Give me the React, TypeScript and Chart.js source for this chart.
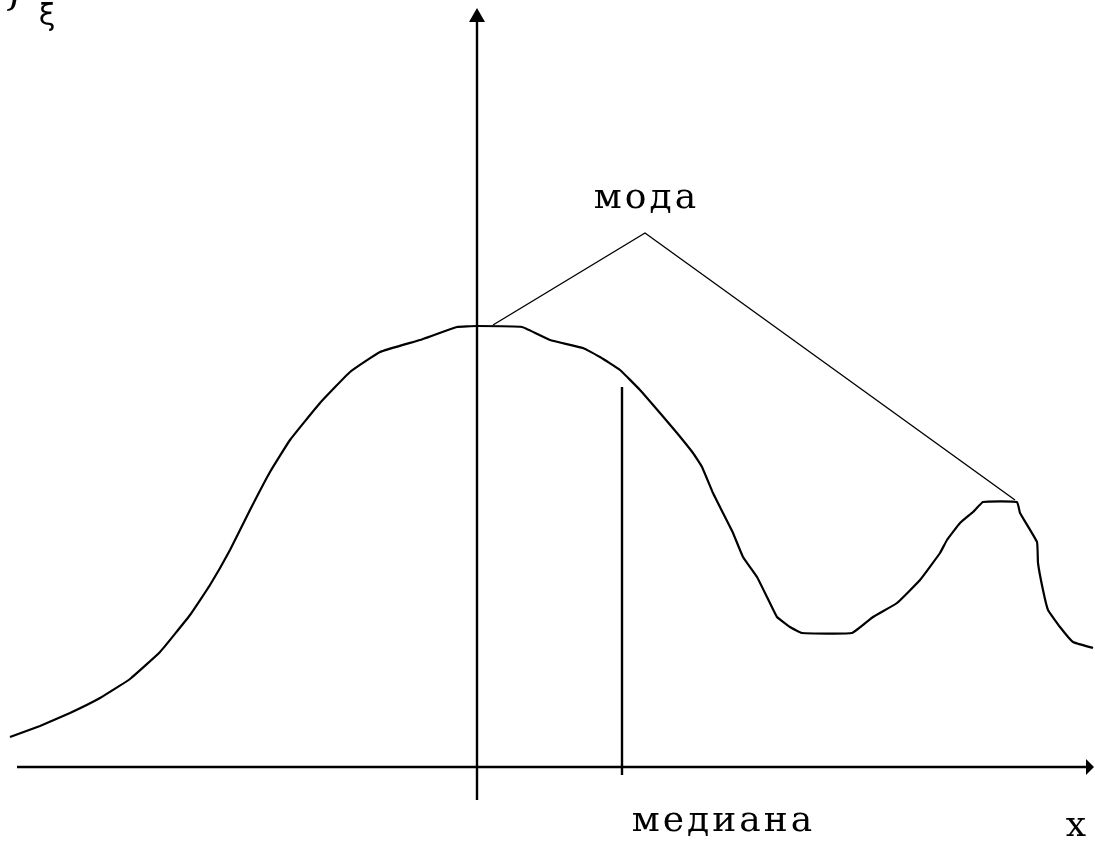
import React, { useEffect, useRef } from "react";
import { Chart, registerables } from "chart.js";

Chart.register(...registerables);

// Density curve f(x), sampled along x
const curveX = [
  -4.67, -4.37, -4.07, -3.77, -3.47, -3.17, -2.87, -2.67, -2.47, -2.27, -2.07, -1.87,
  -1.57, -1.27, -0.97, -0.57, -0.2, 0.0, 0.45, 0.73, 1.06, 1.23, 1.43, 1.63, 1.83, 2.0,
  2.16, 2.25, 2.36, 2.46, 2.56, 2.66, 2.8, 2.9, 3.0, 3.13, 3.25, 3.75, 3.96, 4.2, 4.43,
  4.63, 4.7, 4.83, 4.96, 5.06, 5.4, 5.43, 5.6, 5.61, 5.66, 5.71, 5.83, 5.96, 6.16,
];
const curveY = [
  0.3, 0.41, 0.54, 0.69, 0.88, 1.15, 1.52, 1.82, 2.17, 2.57, 2.95, 3.27,
  3.64, 3.95, 4.15, 4.27, 4.4, 4.41, 4.4, 4.27, 4.19, 4.1, 3.97, 3.77, 3.54, 3.34,
  3.14, 3.0, 2.74, 2.54, 2.34, 2.1, 1.9, 1.7, 1.5, 1.4, 1.34, 1.34, 1.5, 1.64, 1.87,
  2.14, 2.27, 2.44, 2.55, 2.65, 2.65, 2.54, 2.25, 2.04, 1.77, 1.57, 1.4, 1.25, 1.19,
];

// Pointer lines from the "мода" label to the two local maxima
const modeX = [0.16, 1.68, 5.38];
const modeY = [4.42, 5.34, 2.67];

// Median position and the height of its marker
const medianX = 1.45;
const medianTop = 3.8;
const medianBottom = -0.08;

// Axes extents
const xAxisFrom = -4.6;
const xAxisTo = 6.16;
const yAxisFrom = -0.33;
const yAxisTo = 7.57;

const xMin = -4.77;
const xMax = 6.18;
const yMin = -0.74;
const yMax = 7.67;

const labelMode = "мода";
const labelMedian = "медиана";
const labelX = "x";
const labelF = "f";
const labelXi = "ξ";

const pts = (xs: number[], ys: number[]) => xs.map((x, i) => ({ x, y: ys[i] }));

const annotations = {
  id: "annotations",
  afterDatasetsDraw(chart: any) {
    const { ctx, scales } = chart;
    const px = (v: number) => scales.x.getPixelForValue(v);
    const py = (v: number) => scales.y.getPixelForValue(v);
    ctx.save();
    ctx.fillStyle = "#000";

    // arrowhead on the vertical axis
    ctx.beginPath();
    ctx.moveTo(px(0), py(yAxisTo) - 2);
    ctx.lineTo(px(0) - 8, py(yAxisTo) + 12);
    ctx.lineTo(px(0) + 8, py(yAxisTo) + 12);
    ctx.closePath();
    ctx.fill();

    // arrowhead on the horizontal axis
    ctx.beginPath();
    ctx.moveTo(px(xAxisTo) + 1, py(0));
    ctx.lineTo(px(xAxisTo) - 7, py(0) - 8);
    ctx.lineTo(px(xAxisTo) - 7, py(0) + 8);
    ctx.closePath();
    ctx.fill();

    ctx.textAlign = "center";
    ctx.textBaseline = "middle";
    ctx.font = '36px "DejaVu Serif", serif';
    (ctx as any).letterSpacing = "3px";
    ctx.fillText(labelMode, px(1.695), py(5.68));
    ctx.fillText(labelMedian, px(2.465), py(-0.55));
    (ctx as any).letterSpacing = "0px";
    ctx.fillText(labelX, px(5.99), py(-0.6));

    // density symbol in the top-left corner
    ctx.textBaseline = "alphabetic";
    ctx.font = 'italic 40px "DejaVu Serif", serif';
    ctx.fillText(labelF, px(-4.6), py(7.64));
    ctx.font = '30px "DejaVu Sans", sans-serif';
    ctx.fillText(labelXi, px(-4.3), py(7.42));
    ctx.restore();
  },
};

export default function App() {
  const ref = useRef<HTMLCanvasElement>(null);

  useEffect(() => {
    if (!ref.current) return;
    const line = (data: any[], width: number, extra: any = {}) => ({
      data,
      borderColor: "#000",
      borderWidth: width,
      pointRadius: 0,
      fill: false,
      tension: 0,
      ...extra,
    });
    const chart = new Chart(ref.current, {
      type: "line",
      data: {
        datasets: [
          line(pts(curveX, curveY), 2.2, { tension: 0.1 }),
          line(pts(modeX, modeY), 1.4),
          line([{ x: medianX, y: medianTop }, { x: medianX, y: medianBottom }], 2.4),
          line([{ x: xAxisFrom, y: 0 }, { x: xAxisTo - 0.05, y: 0 }], 2.4),
          line([{ x: 0, y: yAxisFrom }, { x: 0, y: yAxisTo - 0.1 }], 2.4),
        ] as any,
      },
      options: {
        responsive: false,
        animation: false,
        layout: { padding: 0 },
        plugins: { legend: { display: false }, tooltip: { enabled: false } },
        scales: {
          x: { type: "linear", min: xMin, max: xMax, display: false },
          y: { type: "linear", min: yMin, max: yMax, display: false },
        },
        events: [],
      },
      plugins: [annotations],
    });
    return () => chart.destroy();
  }, []);

  return (
    <div
      style={{
        position: "fixed",
        left: 0,
        top: 0,
        width: 1095,
        height: 841,
        background: "#fff",
      }}
    >
      <canvas ref={ref} width={1095} height={841} />
    </div>
  );
}
